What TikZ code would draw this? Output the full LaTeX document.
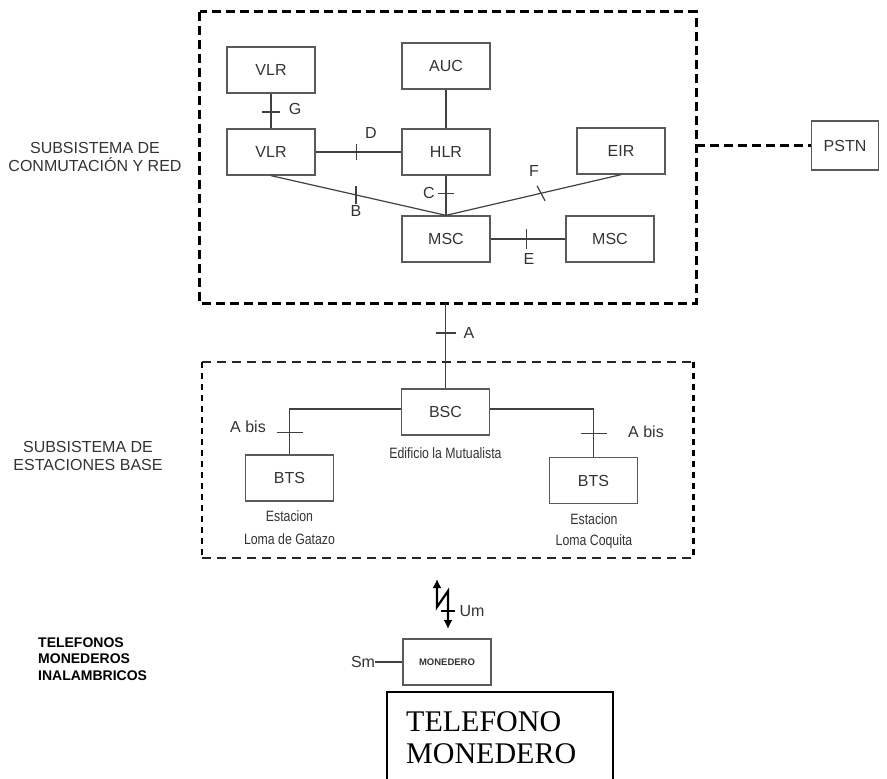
\documentclass[tikz,border=0pt]{standalone}
\usepackage{fontspec}
\setmainfont{Liberation Sans}
\newfontfamily\narrowfont[FakeStretch=0.82]{Liberation Sans}
\newfontfamily\timesfont{Liberation Serif}
\usetikzlibrary{arrows.meta,calc}
\definecolor{boxgray}{HTML}{5A5A5A}
\definecolor{txtgray}{HTML}{333333}
\definecolor{linecol}{HTML}{404040}
\tikzset{
  box/.style={draw=boxgray, line width=1.3pt, minimum width=88pt, minimum height=46pt,
    inner sep=0pt, font=\fontsize{16}{18}\selectfont, text=txtgray},
  lbl/.style={inner sep=0pt, font=\fontsize{16}{18}\selectfont, text=txtgray},
  sublbl/.style={inner sep=0pt, font=\narrowfont\fontsize{15}{18}\selectfont, text=txtgray},
  conn/.style={draw=linecol, line width=1.2pt},
  tickmark/.style={draw=linecol, line width=1.2pt},
  bigdash/.style={draw=black, line width=3pt, dash pattern=on 9pt off 5pt},
  thindash/.style={draw=black!85, line width=1.7pt, dash pattern=on 9pt off 6pt},
  sidedash/.style={draw=black, line width=2.6pt, dash pattern=on 6pt off 5pt},
  bolt/.style={draw=black, line width=2.2pt, {Latex[length=9pt,width=9pt]}-{Latex[length=9pt,width=9pt]}},
}
\begin{document}
\begin{tikzpicture}[x=1pt,y=-1pt]
\useasboundingbox (0,0) rectangle (887,779);

% --- core network subsystem
\node[minimum width=496pt, minimum height=291pt, inner sep=0pt] (core) at (448,157.5) {};
\draw[bigdash] (core.north west) rectangle (core.south east);

\node[box] (vlra) at (271,70) {VLR};
\node[box] (auc)  at (446,66) {AUC};
\node[box] (vlrb) at (271,152) {VLR};
\node[box] (hlr)  at (446,152) {HLR};
\node[box] (eir)  at (621,151) {EIR};
\node[box] (msca) at (446,239) {MSC};
\node[box] (mscb) at (610,239) {MSC};
\node[box, minimum width=67pt, minimum height=49pt] (pstn) at (845,145.5) {PSTN};

\draw[conn] (vlra) -- coordinate[pos=0.53] (tG) (vlrb);
\draw[conn] (vlrb) -- coordinate[pos=0.48] (tD) (hlr);
\draw[conn] (auc) -- (hlr);
\draw[conn] (hlr) -- coordinate[pos=0.44] (tC) (msca);
\draw[conn] (vlrb.south) -- coordinate[pos=0.486] (tB) (msca.north);
\draw[conn] (eir.south) -- coordinate[pos=0.457] (tF) (msca.north);
\draw[conn] (msca) -- coordinate[pos=0.48] (tE) (mscb);

\draw[tickmark] ([shift={(-9,0)}]tG) -- ([shift={(9,0)}]tG);
\draw[tickmark] ([shift={(0,-8)}]tD) -- ([shift={(0,8)}]tD);
\draw[tickmark] ([shift={(-8,0)}]tC) -- ([shift={(8,0)}]tC);
\draw[tickmark] ([shift={(0,-9)}]tB) -- ([shift={(0,9)}]tB);
\draw[tickmark] ([shift={(-4,-7.5)}]tF) -- ([shift={(4,7.5)}]tF);
\draw[tickmark] ([shift={(0,-10)}]tE) -- ([shift={(0,10)}]tE);

\node[lbl] (lG) at (295,109) {G};
\node[lbl] (lD) at (371,133) {D};
\node[lbl] (lC) at (429,193) {C};
\node[lbl] (lB) at (356,211) {B};
\node[lbl] (lF) at (534,171) {F};
\node[lbl] (lE) at (529,259) {E};

\draw[bigdash] (core.east |- pstn.west) -- (pstn.west);

\node[lbl, align=center] (sub1) at (95,157) {SUBSISTEMA DE\\CONMUTACIÓN Y RED};

% --- base station subsystem
\node[minimum width=491pt, minimum height=196pt, inner sep=0pt] (bss) at (447.5,460) {};
\draw[thindash] (bss.north west) -- (bss.north east);
\draw[thindash] (bss.south west) -- (bss.south east);
\draw[sidedash] (bss.north west) -- (bss.south west);
\draw[sidedash] (bss.north east) -- (bss.south east);

\node[box] (bsc)  at (445.5,412) {BSC};
\node[box] (btsa) at (289.5,478) {BTS};
\node[box] (btsb) at (593.5,480.5) {BTS};

\draw[conn] (core.south -| bsc.north) -- coordinate[pos=0.35] (tA) (bsc.north);
\draw[tickmark] ([shift={(-10,0)}]tA) -- ([shift={(10,0)}]tA);
\node[lbl] (lA) at (469,333) {A};

\draw[conn] ([yshift=3pt]bsc.west) -| coordinate[pos=0.76] (tAb1) (btsa.north);
\draw[conn] ([yshift=3pt]bsc.east) -| coordinate[pos=0.755] (tAb2) (btsb.north);
\draw[tickmark] ([shift={(-13,0)}]tAb1) -- ([shift={(13,0)}]tAb1);
\draw[tickmark] ([shift={(-13,0)}]tAb2) -- ([shift={(13,0)}]tAb2);
\node[lbl] (lAb1) at (248,427) {A bis};
\node[lbl] (lAb2) at (646,432) {A bis};

\node[sublbl] (ed) at (445.5,453) {Edificio la Mutualista};
\node[sublbl] (esa1) at (289.5,516) {Estacion};
\node[sublbl] (esa2) at (289.5,539) {Loma de Gatazo};
\node[sublbl] (esb1) at (594,519) {Estacion};
\node[sublbl] (esb2) at (594,542) {Loma Coquita};

\node[lbl, align=center] (sub2) at (88,456) {SUBSISTEMA DE\\ESTACIONES BASE};

% --- terminals
\node[inner sep=0pt, anchor=west, align=left, text=black,
  font=\bfseries\fontsize{14}{16.5}\selectfont] (sub3) at (38,659)
  {TELEFONOS\\MONEDEROS\\INALAMBRICOS};

\node[box, font=\bfseries\fontsize{9.5}{11}\selectfont, text=black!80] (mon) at (447,662) {MONEDERO};

\coordinate (ltop) at (437,579);
\coordinate (lbot) at (448,629);
\draw[bolt] (ltop) -- (437,607) -- (448,591) -- coordinate[pos=0.53] (tU) (lbot);
\draw[draw=black, line width=1.3pt] ([shift={(-7,0)}]tU) -- ([shift={(7,0)}]tU);
\node[lbl] (lUm) at (472,611) {Um};

\node[lbl] (sm) at (363,662) {Sm};
\draw[conn] (sm.east) -- (mon.west);

\draw[black, line width=1.5pt] (387,790) |- (613,692) -- (613,790);
\node[inner sep=0pt, anchor=north west, align=left, text=black,
  font=\timesfont\fontsize{30}{32}\selectfont] (tm) at (406,711)
  {TELEFONO\\MONEDERO};
\end{tikzpicture}
\end{document}
